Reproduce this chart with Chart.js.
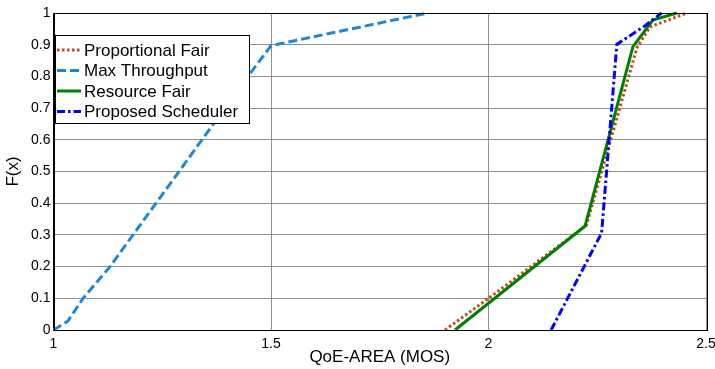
<!DOCTYPE html>
<html>
<head>
<meta charset="utf-8">
<script src="https://cdn.jsdelivr.net/npm/chart.js@4/dist/chart.umd.min.js"></script>
<style>
  html, body { margin: 0; padding: 0; background: #fff; }
  #wrap { width: 715px; height: 369px; }
</style>
</head>
<body>
<div id="wrap"><canvas id="cdf"></canvas></div>
<script>
// values
const seriesNames = ["Proportional Fair", "Max Throughput", "Resource Fair", "Proposed Scheduler"];

const pfX = [1.90, 2.00, 2.225, 2.341, 2.371, 2.456];
const pfY = [0, 0.10, 0.33, 0.89, 0.956, 1];

const mtX = [1, 1.033, 1.068, 1.13, 1.447, 1.5, 1.86];
const mtY = [0, 0.028, 0.1, 0.2, 0.8, 0.897, 1];

const rfX = [1.923, 2.222, 2.332, 2.378, 2.433];
const rfY = [0, 0.328, 0.894, 0.978, 1];

const psX = [2.144, 2.26, 2.295, 2.36, 2.398];
const psY = [0, 0.306, 0.901, 0.96, 1];

const xTicks = [1, 1.5, 2, 2.5];
const yTicks = [0, 0.1, 0.2, 0.3, 0.4, 0.5, 0.6, 0.7, 0.8, 0.9, 1];

function pts(xs, ys) {
  return xs.map((x, i) => ({ x: x, y: ys[i] }));
}

const FONT = "Arial, 'Liberation Sans', sans-serif";

const styles = [
  { color: "#c04a1c", dash: [2.5, 2.5], order: 4 },
  { color: "#1e88d6", dash: [9, 4], order: 3 },
  { color: "#008000", dash: [], order: 2 },
  { color: "#0000ff", dash: [8, 3, 2.5, 3], order: 1 }
];
const allData = [pts(pfX, pfY), pts(mtX, mtY), pts(rfX, rfY), pts(psX, psY)];

const datasets = seriesNames.map((name, i) => ({
  label: name,
  data: allData[i],
  showLine: true,
  borderColor: styles[i].color,
  borderDash: styles[i].dash,
  borderWidth: 3,
  pointRadius: 0,
  fill: false,
  tension: 0,
  order: styles[i].order,
  clip: 3
}));

// box around the plot + legend inside the axes
const boxAndLegend = {
  id: "boxAndLegend",
  afterDatasetsDraw(chart) {
    const ctx = chart.ctx;
    const a = chart.chartArea;
    ctx.save();
    ctx.strokeStyle = "#000";
    ctx.lineWidth = 1;
    ctx.setLineDash([]);
    ctx.strokeRect(Math.round(a.left) + 0.5, Math.round(a.top) + 0.5,
      Math.round(a.right - a.left), Math.round(a.bottom - a.top));

    // legend
    const lx = 55.5, ly = 35.5, lw = 194, lh = 88;
    ctx.fillStyle = "#fff";
    ctx.fillRect(lx, ly, lw, lh);
    ctx.strokeRect(lx, ly, lw, lh);
    ctx.font = "17px " + FONT;
    ctx.textBaseline = "middle";
    const rows = [50, 70.5, 91, 111.5];
    seriesNames.forEach((name, i) => {
      ctx.strokeStyle = styles[i].color;
      ctx.lineWidth = 3;
      ctx.setLineDash(styles[i].dash);
      ctx.beginPath();
      ctx.moveTo(57, rows[i]);
      ctx.lineTo(81, rows[i]);
      ctx.stroke();
      ctx.fillStyle = "#000";
      ctx.fillText(name, 84, rows[i] + 1);
    });
    ctx.restore();
  }
};

new Chart(document.getElementById("cdf"), {
  type: "scatter",
  data: { datasets: datasets },
  plugins: [boxAndLegend],
  options: {
    responsive: true,
    maintainAspectRatio: false,
    animation: false,
    layout: { autoPadding: false, padding: { top: 13, right: 9, left: 0, bottom: 0 } },
    plugins: { legend: { display: false }, tooltip: { enabled: false } },
    scales: {
      x: {
        type: "linear",
        min: 1,
        max: 2.5,
        afterFit: s => { s.height = 39; s.paddingLeft = 0; s.paddingRight = 0; },
        afterBuildTicks: s => { s.ticks = xTicks.map(v => ({ value: v })); },
        grid: { color: "#8f8f8f", lineWidth: 1, drawTicks: false },
        border: { color: "#000", width: 1 },
        ticks: {
          padding: 6,
          color: "#000",
          font: { family: FONT, size: 14 },
          maxRotation: 0,
          callback: v => String(v)
        },
        title: {
          display: true,
          text: "QoE-AREA (MOS)",
          color: "#000",
          font: { family: FONT, size: 17 },
          padding: { top: 0, bottom: 1 }
        }
      },
      y: {
        type: "linear",
        min: 0,
        max: 1,
        afterFit: s => { s.width = 53.5; s.paddingTop = 0; s.paddingBottom = 0; },
        afterBuildTicks: s => { s.ticks = yTicks.map(v => ({ value: v })); },
        grid: { color: "#8f8f8f", lineWidth: 1, drawTicks: false },
        border: { color: "#000", width: 1 },
        ticks: {
          padding: 3,
          color: "#000",
          font: { family: FONT, size: 14 },
          callback: v => String(Math.round(v * 10) / 10)
        },
        title: {
          display: true,
          text: "F(x)",
          color: "#000",
          font: { family: FONT, size: 17 },
          padding: { top: 3, bottom: 0 }
        }
      }
    }
  }
});
</script>
</body>
</html>
